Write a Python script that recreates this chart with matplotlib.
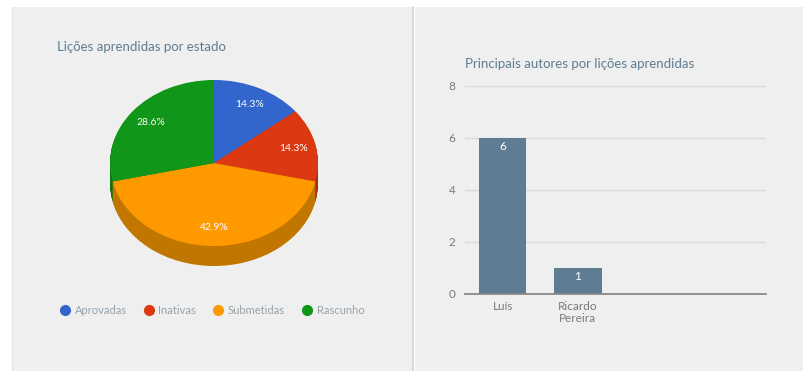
import matplotlib
matplotlib.use("Agg")
import matplotlib.pyplot as plt
from matplotlib.patches import Rectangle
from matplotlib.lines import Line2D
import numpy as np

plt.rcParams['font.family'] = ['Lato', 'DejaVu Sans']

# Lições por estado
estados = ["Aprovadas", "Inativas", "Submetidas", "Rascunho"]
licoes = [1, 1, 3, 2]
cores = ["#3366cc", "#dc3912", "#ff9900", "#109618"]
cores_lado = ["#284f9e", "#a82c0e", "#c17600", "#0c7313"]

# Principais autores
autores = ["Luís", "Ricardo\nPereira"]
n_licoes = [6, 1]
cor_barra = "#5e7d93"

W, H = 804, 371
fig = plt.figure(figsize=(W / 100, H / 100), dpi=100)
fig.patch.set_facecolor("white")


def px(x0, y0, w, h):
    # pixel box (top-left origin) -> figure fraction
    return [x0 / W, 1 - (y0 + h) / H, w / W, h / H]


# card backgrounds
bg = fig.add_axes([0, 0, 1, 1], zorder=-10)
bg.set_xlim(0, W)
bg.set_ylim(H, 0)
bg.axis("off")
bg.add_patch(Rectangle((12, 7), 401, H - 7, color="#efefef", lw=0))
bg.add_patch(Rectangle((415, 7), W - 415, H - 7, color="#efefef", lw=0))
bg.plot([413.5, 413.5], [7, H], color="#d2d2d2", lw=1.2)
bg.plot([12, 12], [7, H], color="#e6e6e6", lw=1)

# --- pie with a thick side ---
cx, cy, rx, ry = 214, 163, 104, 83
y_lo, y_hi = -1.6, 1.25
pie_ax = fig.add_axes(px(cx - 1.25 * rx, cy - y_hi * ry, 2.5 * rx, (y_hi - y_lo) * ry))
depth = 20 / ry
for k in np.linspace(depth, 0.01, 30):
    pie_ax.pie(licoes, colors=cores_lado, startangle=90, counterclock=False,
               center=(0, -k), wedgeprops=dict(linewidth=0))
pie_ax.pie(licoes, colors=cores, startangle=90, counterclock=False,
           autopct="%.1f%%", pctdistance=0.78,
           wedgeprops=dict(linewidth=0),
           textprops=dict(color="white", fontsize=7.5))
pie_ax.set_aspect("auto")
pie_ax.set_xlim(-1.25, 1.25)
pie_ax.set_ylim(y_lo, y_hi)
pie_ax.axis("off")

fig.text(57 / W, 1 - 47 / H, "Lições aprendidas por estado", color="#5f7d92",
         fontsize=9.5, va="center", ha="left")

handles = [Line2D([], [], marker="o", ls="", markersize=7, markerfacecolor=c,
                  markeredgecolor=c) for c in cores]
fig.legend(handles, estados, loc="center", bbox_to_anchor=(212 / W, 1 - 310 / H),
           ncol=4, frameon=False, fontsize=8, labelcolor="#98a3ab",
           handletextpad=0.35, columnspacing=1.5, handlelength=1.0)

# --- bar chart ---
bar_ax = fig.add_axes(px(465, 86, 301, 208))
bar_ax.set_facecolor("none")
pos = np.arange(len(autores))
bars = bar_ax.bar(pos, n_licoes, width=0.63, color=cor_barra, zorder=3)
for b, v in zip(bars, n_licoes):
    bar_ax.annotate(str(v), (b.get_x() + b.get_width() / 2, v), xytext=(0, -6),
                    textcoords="offset points", ha="center", va="center",
                    color="white", fontsize=8.5, zorder=4)
bar_ax.set_xlim(-0.5, 3.5)
bar_ax.set_ylim(0, 8)
bar_ax.set_yticks([0, 2, 4, 6, 8])
bar_ax.set_xticks(pos, autores)
bar_ax.grid(axis="y", color="#dadada", lw=1, zorder=0)
for s in ["top", "right", "left"]:
    bar_ax.spines[s].set_visible(False)
bar_ax.spines["bottom"].set_color("#8a8a8a")
bar_ax.spines["bottom"].set_linewidth(1.3)
bar_ax.spines["bottom"].set_zorder(5)
bar_ax.tick_params(axis="both", length=0, colors="#7a7a7a", labelsize=8.5)
bar_ax.tick_params(axis="y", pad=7)
bar_ax.tick_params(axis="x", pad=5)
for t in bar_ax.get_xticklabels():
    t.set_linespacing(1.15)

fig.text(465 / W, 1 - 64 / H, "Principais autores por lições aprendidas",
         color="#5f7d92", fontsize=9.5, va="center", ha="left")

fig.savefig("out.png", dpi=100)
